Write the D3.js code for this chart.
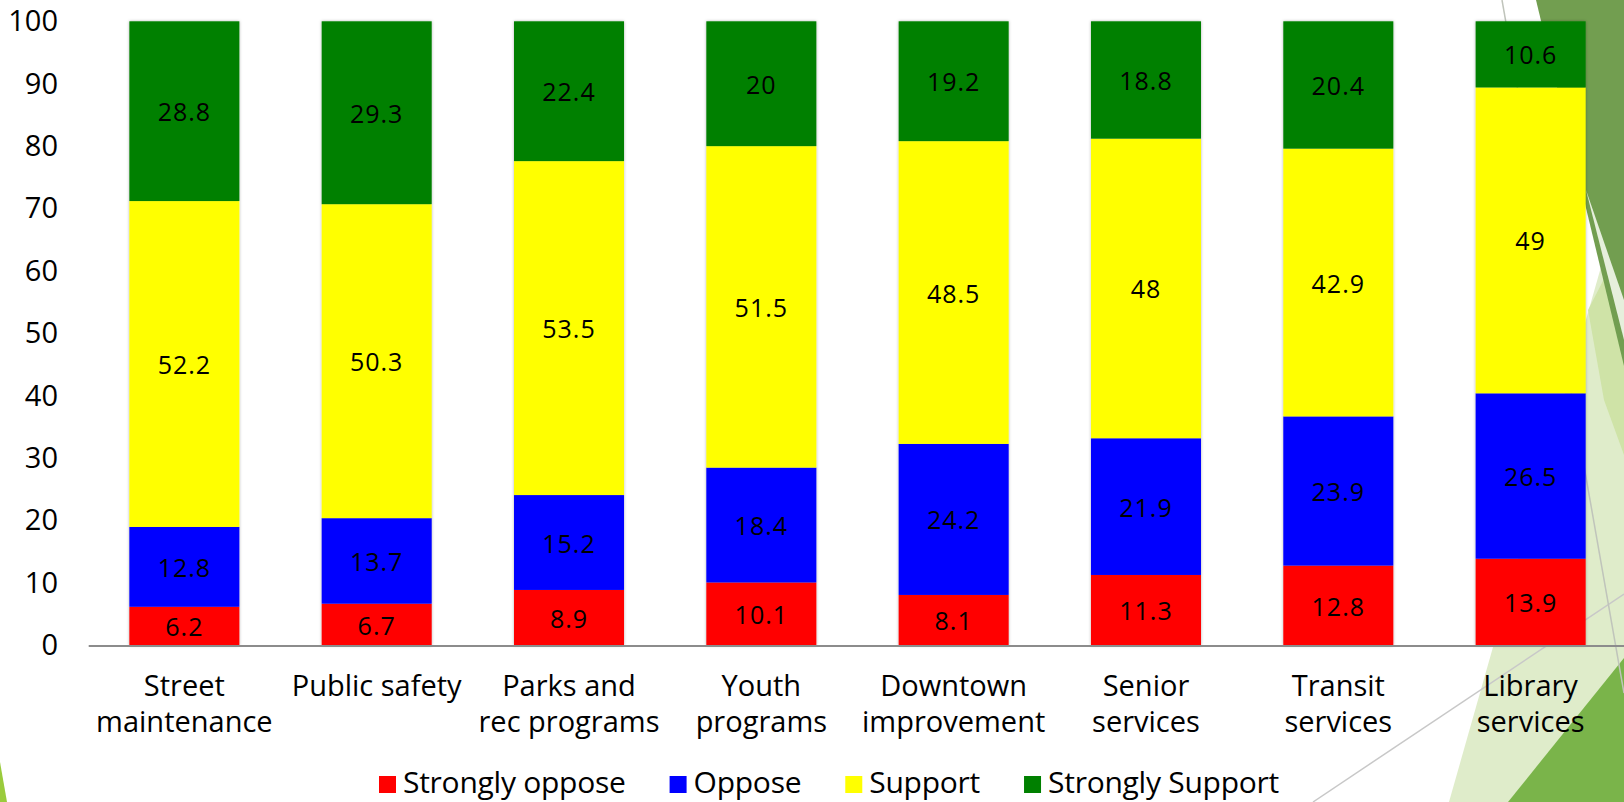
<!DOCTYPE html>
<html>
<head>
<meta charset="utf-8">
<script src="https://cdn.jsdelivr.net/npm/d3@7"></script>
<style>
  html, body { margin: 0; padding: 0; background: #ffffff; }
  svg { display: block; }
  text { font-family: "Open Sans", "DejaVu Sans", sans-serif; fill: #000; }
</style>
</head>
<body>
<svg id="chart" width="1624" height="802"></svg>
<script>
// Survey responses by service area (percent of respondents)
const categories = [
  "Street maintenance", "Public safety", "Parks and rec programs", "Youth programs",
  "Downtown improvement", "Senior services", "Transit services", "Library services"
];
// Axis label lines for each category
const categoryLines = [
  ["Street", "maintenance"], ["Public safety"], ["Parks and", "rec programs"], ["Youth", "programs"],
  ["Downtown", "improvement"], ["Senior", "services"], ["Transit", "services"], ["Library", "services"]
];
const seriesNames = ["Strongly oppose", "Oppose", "Support", "Strongly Support"];
const stronglyOppose  = [6.2, 6.7, 8.9, 10.1, 8.1, 11.3, 12.8, 13.9];
const oppose          = [12.8, 13.7, 15.2, 18.4, 24.2, 21.9, 23.9, 26.5];
const support         = [52.2, 50.3, 53.5, 51.5, 48.5, 48, 42.9, 49];
const stronglySupport = [28.8, 29.3, 22.4, 20, 19.2, 18.8, 20.4, 10.6];
const yTicks = [0, 10, 20, 30, 40, 50, 60, 70, 80, 90, 100];
const seriesColors = ["#ff0000", "#0000ff", "#ffff00", "#008000"];

const svg = d3.select("#chart");

// ---- decorative slide background ----
const deco = svg.append("g").attr("class", "deco");
const poly = (pts, fill) => deco.append("polygon")
  .attr("points", pts.map(p => p.join(",")).join(" ")).attr("fill", fill);
poly([[1449, 802], [1624, 186], [1624, 802]], "#dfecca");
poly([[1588, 310], [1624, 240], [1624, 455], [1604, 400]], "#cfe3a7");
poly([[1536, 0], [1624, 0], [1624, 366]], "#729e50");
poly([[1586, 190], [1624, 300], [1624, 340]], "#e6efdc");
poly([[1508, 802], [1624, 658], [1624, 802]], "#7ab44a");
poly([[0, 762], [7, 802], [0, 802]], "#9acb3c");
deco.append("line").attr("x1", 1313).attr("y1", 802).attr("x2", 1624).attr("y2", 594)
  .attr("stroke", "#c8c8c8").attr("stroke-width", 1.5);
deco.append("line").attr("x1", 1502).attr("y1", 0).attr("x2", 1624).attr("y2", 693)
  .attr("stroke", "#c0c4bb").attr("stroke-width", 1.5);

// ---- scales ----
const x = d3.scaleBand().domain(categories).range([88.2, 1626.8])
  .paddingInner(0.428).paddingOuter(0.214);
const y = d3.scaleLinear().domain([0, 100]).range([645.5, 21.3]);

// ---- stacked bars ----
const table = categories.map((c, i) => ({
  category: c,
  "Strongly oppose": stronglyOppose[i],
  "Oppose": oppose[i],
  "Support": support[i],
  "Strongly Support": stronglySupport[i]
}));
const stack = d3.stack().keys(seriesNames)(table);

const defs = svg.append("defs");
const shadow = defs.append("filter").attr("id", "barShadow")
  .attr("x", "-10%").attr("y", "-5%").attr("width", "120%").attr("height", "110%");
shadow.append("feDropShadow").attr("dx", 0).attr("dy", 0).attr("stdDeviation", 1.5)
  .attr("flood-color", "#000").attr("flood-opacity", 0.3);

const barsG = svg.append("g").attr("filter", "url(#barShadow)");
stack.forEach((layer, si) => {
  barsG.append("g").attr("fill", seriesColors[si])
    .selectAll("rect").data(layer).join("rect")
    .attr("x", d => x(d.data.category))
    .attr("width", x.bandwidth())
    .attr("y", d => y(d[1]))
    .attr("height", d => y(d[0]) - y(d[1]));
});

// ---- value labels ----
const labelsG = svg.append("g");
stack.forEach((layer, si) => {
  labelsG.selectAll(null).data(layer).join("text")
    .attr("x", d => x(d.data.category) + x.bandwidth() / 2)
    .attr("y", d => (y(d[0]) + y(d[1])) / 2)
    .attr("text-anchor", "middle")
    .attr("dominant-baseline", "central")
    .attr("font-size", 25)
    .attr("letter-spacing", 1)
    .text(d => d.data[seriesNames[si]]);
});

// ---- axes ----
const yAxis = svg.append("g").attr("transform", "translate(88,0)")
  .call(d3.axisLeft(y).tickValues(yTicks).tickSize(0).tickPadding(30));
yAxis.select(".domain").remove();
yAxis.selectAll("text").attr("font-size", 29).attr("font-family", null).attr("fill", "#000");

const xAxis = svg.append("g").attr("transform", `translate(0,${y(0)})`)
  .call(d3.axisBottom(x).tickSize(0).tickFormat(""));
xAxis.select(".domain").attr("stroke", "#8c8c8c").attr("stroke-width", 2);

const catG = svg.append("g");
categories.forEach((c, i) => {
  const t = catG.append("text")
    .attr("x", x(c) + x.bandwidth() / 2)
    .attr("y", 696)
    .attr("text-anchor", "middle")
    .attr("font-size", 29);
  categoryLines[i].forEach((ln, j) => {
    t.append("tspan").attr("x", x(c) + x.bandwidth() / 2).attr("dy", j === 0 ? 0 : 36).text(ln);
  });
});

// ---- legend ----
const legend = svg.append("g");
let lx = 379;
seriesNames.forEach((name, i) => {
  legend.append("rect").attr("x", lx).attr("y", 776).attr("width", 17).attr("height", 17)
    .attr("fill", seriesColors[i]);
  const t = legend.append("text").attr("x", lx + 24).attr("y", 793)
    .attr("font-size", 30).attr("letter-spacing", -0.26).text(name);
  lx += 24 + t.node().getComputedTextLength() + 44;
});
</script>
</body>
</html>
